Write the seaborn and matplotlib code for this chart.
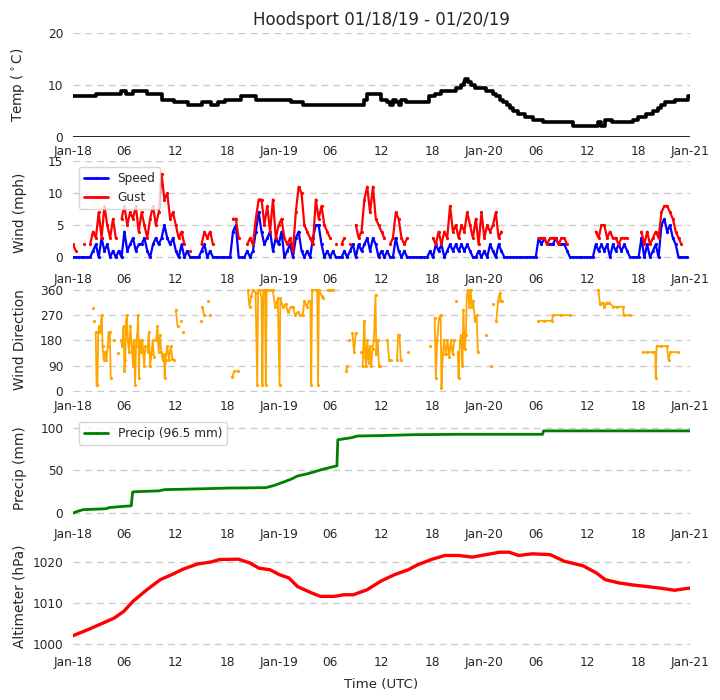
import numpy as np
import pandas as pd
import matplotlib
matplotlib.use("Agg")
import matplotlib.pyplot as plt
import matplotlib.dates as mdates
from matplotlib.lines import Line2D
import seaborn as sns

n = np.nan
start = pd.Timestamp("2019-01-18 00:00")

# temperature (deg C), step changes: hour since start -> value
temp_hours = [0, 2.7, 5.6, 6.2, 7.0, 8.6, 10.4, 11.8, 13.4, 15.0, 16.1, 16.9, 17.7,
              19.6, 21.4, 25.4, 26.8, 34.0, 34.3, 35.9, 36.7, 37.0, 37.3, 37.7, 38.0,
              38.3, 38.9, 41.5, 42.3, 42.9, 44.7, 45.3, 45.6, 45.8, 46.1, 46.4, 46.9,
              48.2, 49.0, 49.4, 49.8, 50.2, 50.6, 51.0, 51.4, 51.9, 52.7, 53.7, 54.9,
              58.4, 61.3, 61.6, 62.1, 62.9, 65.3, 65.9, 66.9, 67.7, 68.3, 68.6, 69.1,
              70.2, 71.8, 72.0]
temp_vals = [7.8, 8.3, 8.9, 8.3, 8.9, 8.3, 7.2, 6.7, 6.1, 6.7, 6.1, 6.7, 7.2,
             7.8, 7.2, 6.7, 6.1, 7.2, 8.3, 7.2, 6.7, 6.1, 7.2, 6.7, 6.1,
             7.2, 6.7, 7.8, 8.3, 8.9, 9.4, 10.0, 10.6, 11.1, 10.6, 10.0, 9.4,
             8.9, 8.3, 7.8, 7.2, 6.7, 6.1, 5.6, 5.0, 4.4, 3.9, 3.3, 2.8,
             2.2, 2.8, 2.2, 3.3, 2.8, 3.3, 3.9, 4.4, 5.0, 5.6, 6.1, 6.7,
             7.2, 7.8, 7.8]

# wind speed and gust (mph), one value every 20 minutes
wind_speed = [
    0, 0, 0, 0, 0, 0, 0, 1, 2, 0, 3, 1, 2, 0, 1, 0, 1, 0,
    4, 1, 2, 3, 1, 2, 2, 3, 1, 0, 2, 3, 2, 3, 5, 3, 2, 3,
    1, 0, 2, 0, 1, 0, 0, 0, 0, 1, 2, 0, 1, 0, 0, 0, 0, 0,
    0, 0, 4, 5, 0, 0, 0, 1, 0, 1, 4, 7, 4, 2, 3, 4, 1, 3,
    2, 4, 0, 1, 2, 0, 3, 4, 1, 0, 1, 0, 3, 5, 5, 2, 0, 1,
    0, 1, 0, 0, 0, 1, 0, 1, 2, 0, 2, 1, 2, 3, 1, 3, 2, 0,
    1, 0, 1, 0, 0, 3, 1, 0, 1, 0, 0, 0, 0, 0, 0, 0, 0, 1,
    0, 2, 1, 2, 0, 1, 2, 1, 2, 1, 2, 1, 2, 1, 0, 0, 1, 0,
    1, 0, 2, 1, 0, 2, 1, 0, 0, 0, 0, 0, 0, 0, 0, 0, 0, 0,
    0, 3, 2, 3, 2, 2, 2, 3, 2, 2, 2, 1, 0, 0, 0, 0, 0, 0,
    0, 0, 0, 2, 1, 2, 1, 2, 0, 2, 1, 2, 1, 2, 1, 0, 0, 0,
    0, 3, 0, 2, 0, 1, 2, 0, 5, 6, 4, 5, 3, 2, 0, 0, 0, 0,
]
wind_gust = [
    2, 1, n, n, 2, n, 2, 4, 3, 7, 3, 8, 5, 3, 6, 3, n, 6,
    8, 5, 7, 6, 8, 4, 7, 5, 3, 6, 8, 5, 7, 13, 9, 10, 6, 7,
    5, 3, 4, 2, n, 1, n, n, n, 2, 4, 3, 4, 2, n, n, n, n,
    n, n, 6, 6, 3, n, n, 2, 3, 2, 6, 9, 9, 5, 8, 4, 9, 3,
    5, 6, 3, 2, 3, 1, 7, 11, 10, 5, 4, 3, 2, 9, 6, 8, 5, 4,
    3, n, 2, n, 2, 3, n, 2, n, 5, 3, 4, 9, 11, 7, 11, 6, 5,
    4, 3, n, 2, 3, 7, 6, 3, 2, 3, n, n, n, n, n, n, n, n,
    3, 2, 4, 2, 4, 3, 8, 4, 5, 3, 5, 4, 7, 5, 3, 6, 2, 7,
    3, 5, 4, 5, 7, 3, 4, n, n, n, n, n, n, n, n, n, n, n,
    n, 3, 3, 3, 2, 3, 3, 3, 2, 3, 3, 2, n, n, n, n, n, n,
    n, n, n, 4, 3, 5, 5, 3, 4, 3, 3, 2, 3, 3, 3, n, n, n,
    n, 4, 2, 4, 2, 3, 4, 3, 7, 8, 8, 7, 6, 4, 3, 2, n, n,
]

# wind direction (deg), NaN breaks the line
dir_hours = [2.3, 2.4, 2.45, 2.5,
             2.65, 2.75, 2.85, 2.95, 3.05, 3.2, 3.35, 3.45, 3.6, 3.75, 3.9, 4.05, 4.15, 4.3, 4.4, 4.5,
             4.8, 4.85, 5.3, 5.35,
             5.6, 5.75, 5.9, 6.0, 6.1, 6.2, 6.3, 6.4, 6.55, 6.7, 6.85, 7.0, 7.1, 7.25, 7.35, 7.5,
             7.6, 7.7, 7.8, 7.95, 8.1, 8.3, 8.45, 8.55,
             8.7, 8.85, 9.0, 9.15, 9.3, 9.45, 9.55,
             9.7, 9.85, 10.0, 10.15, 10.3, 10.45, 10.6, 10.7, 10.8, 11.0, 11.2, 11.4, 11.6, 11.8, 11.9,
             12.0, 12.2, 12.3, 12.6, 12.65, 12.8, 12.85,
             14.9, 14.95, 15.1, 15.3, 15.35, 15.7, 15.75, 16.0, 16.05,
             18.6, 18.8, 19.2, 19.25,
             20.4, 20.6, 20.8, 21.0, 21.3, 21.5, 21.6, 21.8, 22.0, 22.1, 22.2, 22.4, 22.5, 22.6,
             23.0, 23.3, 23.6, 23.9, 24.1, 24.2, 24.5, 24.8, 25.1, 25.4, 25.7, 25.9, 26.2, 26.5,
             26.8, 27.0, 27.3, 27.5, 27.7, 27.8, 27.9, 28.3, 28.5, 28.6, 28.7, 29.0, 29.2, 29.3,
             29.7, 30.0, 30.3, 30.4,
             31.9, 32.0, 32.05, 32.2, 32.25,
             32.6, 32.8, 33.0, 33.1, 33.6, 33.65,
             33.8, 33.9, 34.0, 34.1, 34.2, 34.35, 34.5, 34.65, 34.8, 34.95, 35.1, 35.3, 35.4, 35.55,
             35.7, 35.8, 35.9,
             36.7, 36.9, 37.1, 37.15,
             37.8, 37.95, 38.1, 38.25, 38.3,
             39.1, 39.15, 41.7, 41.75,
             42.2, 42.35, 42.5, 42.7, 42.9, 43.0, 43.15, 43.3, 43.5, 43.7, 43.9, 44.1, 44.3, 44.5, 44.6,
             44.7, 44.75,
             44.9, 45.0, 45.15, 45.3, 45.45, 45.55, 45.7, 45.85, 45.95, 46.1, 46.25, 46.4, 46.55, 46.7,
             46.9, 47.1, 47.25, 47.35,
             48.2, 48.25, 48.8, 48.85,
             49.0, 49.15, 49.4, 49.6, 49.8, 49.95, 50.1, 50.2,
             54.3, 55.0, 55.9, 56.0, 57.0, 58.0, 58.05,
             61.3, 61.5, 61.8, 62.0, 62.3, 62.6, 63.0, 63.5, 64.2, 64.25, 65.0, 65.05,
             66.5, 67.0, 67.7, 67.95, 68.0, 68.1, 68.6, 69.3, 69.5, 69.7, 70.6]
dir_deg = [295, n, 250, n,
           210, 20, 20, 210, 230, 210, 270, 160, 110, 140, 110, 160, 210, 210, 45, n,
           180, n, 135, n,
           180, 160, 230, 70, 110, 250, 270, 180, 140, 230, 160, 90, 180, 20, 160, 200,
           270, 45, 180, 140, 180, 90, 160, n,
           140, 210, 90, 130, 180, 120, n,
           180, 230, 140, 200, 140, 110, 130, 45, 110, 160, 110, 160, 115, 110, n,
           290, 230, n, 250, n, 210, n,
           250, n, 300, 270, n, 320, n, 270, n,
           50, 70, 70, n,
           360, 300, 340, 360, 350, 20, 360, 360, 330, 20, 360, 360, 20, 360,
           360, 360, 300, 330, 20, 330, 300, 310, 280, 300, 300, 270, 280, 270,
           270, 320, 300, 320, 320, 20, 360, 360, 360, 20, 360, 340, 330, n,
           360, 360, 360, n,
           70, 90, n, 180, n,
           206, 140, 206, n, 138, n,
           90, 180, 250, 120, 90, 180, 100, 160, 90, 150, 180, 342, 130, 180,
           90, 90, n,
           180, 110, 110, n,
           110, 200, 200, 110, n,
           138, n, 160, n,
           260, 45, 180, 260, 270, 10, 130, 180, 130, 180, 120, 180, 130, 180, n,
           320, n,
           140, 45, 180, 200, 90, 290, 150, 200, 340, 360, 300, 360, 300, 320,
           250, 270, 140, n,
           200, n, 90, n,
           310, n, 250, 320, 350, 320, 320, n,
           250, 250, 250, 270, 270, 270, n,
           360, 310, 315, 300, 315, 315, 300, 300, 300, 270, 270, n,
           138, 138, 138, 138, 45, 160, 160, 160, 110, 138, 138]

# accumulated precipitation (mm)
prec_hours = [0, 0.4, 0.8, 1.2, 2.5, 3.8, 4.3, 5.5, 6.8, 6.95, 7.1, 8.5, 10.0, 10.7, 13.0,
              15.5, 18.0, 22.5, 23.5, 24.6, 25.5, 26.2, 27.3, 28.2, 29.0, 30.0, 30.8, 30.9,
              31.5, 32.5, 33.2, 36.0, 39.6, 45.0, 54.8, 54.9, 60.0, 72.0]
prec_mm = [0, 1.5, 2.8, 4.0, 4.5, 5.0, 6.5, 7.5, 8.5, 24.5, 25.0, 25.5, 26.0, 27.5, 28.0,
           28.6, 29.3, 29.8, 32.5, 36.5, 40.0, 43.5, 46.0, 48.5, 51.0, 53.5, 55.5, 86.0,
           87.0, 88.5, 90.5, 91.0, 92.0, 92.5, 92.5, 96.5, 96.5, 96.5]

# altimeter (hPa)
alt_hours = [0, 2.1, 4.8, 5.9, 7.0, 8.6, 10.2, 11.5, 12.9, 14.5, 16.1, 17.1, 19.3, 20.6,
             21.7, 23.0, 24.1, 25.2, 26.2, 27.9, 28.9, 30.5, 31.6, 32.7, 34.3, 35.9, 37.5,
             39.1, 40.2, 41.8, 43.4, 45.0, 46.6, 48.2, 49.8, 50.9, 52.0, 53.6, 55.7, 57.3,
             59.5, 61.1, 62.1, 63.7, 65.3, 67.0, 68.6, 70.2, 71.8, 72.0]
alt_hpa = [1002.0, 1003.8, 1006.3, 1007.9, 1010.4, 1013.2, 1015.7, 1016.9, 1018.3, 1019.5,
           1020.0, 1020.6, 1020.7, 1019.8, 1018.5, 1018.1, 1016.9, 1016.1, 1014.0, 1012.4,
           1011.6, 1011.6, 1012.0, 1012.0, 1013.2, 1015.3, 1016.9, 1018.1, 1019.3, 1020.6,
           1021.6, 1021.6, 1021.2, 1021.8, 1022.4, 1022.4, 1021.6, 1022.0, 1021.8, 1020.2,
           1019.1, 1017.3, 1015.7, 1014.9, 1014.4, 1014.0, 1013.6, 1013.1, 1013.6, 1013.6]


def to_time(hours):
    return start + pd.to_timedelta(np.asarray(hours, dtype=float), unit="h")


def with_segments(times, values):
    df = pd.DataFrame({"time": times, "val": values})
    df["seg"] = df["val"].isna().cumsum()
    return df.dropna()


wind_t = start + pd.to_timedelta(np.arange(len(wind_speed)) * 20, unit="min")

sns.set_style("whitegrid")
plt.rcParams["font.family"] = ["DejaVu Sans"]

fig = plt.figure(figsize=(7.2, 7.0), dpi=100)
left, width, height = 73 / 720, 617 / 720, 104 / 700
tops = [33, 161, 288, 416, 544]
axes = [fig.add_axes([left, 1 - (t + 104) / 700, width, height]) for t in tops]
ax_t, ax_w, ax_d, ax_p, ax_a = axes

# temperature
sns.lineplot(x=to_time(temp_hours), y=temp_vals, drawstyle="steps-post",
             color="black", lw=2.6, ax=ax_t)
ax_t.axhline(0, color="black", lw=1.2, zorder=1)
ax_t.set_ylim(0, 20)
ax_t.set_yticks([0, 10, 20])
ax_t.set_ylabel("Temp ($^\\circ$C)")
ax_t.set_title("Hoodsport 01/18/19 - 01/20/19", fontsize=12, pad=6)

# wind speed / gust
sns.lineplot(x=wind_t, y=wind_speed, color="blue", lw=1.6, marker=".", ms=3,
             mec="blue", ax=ax_w)
gust_df = with_segments(wind_t, wind_gust)
sns.lineplot(data=gust_df, x="time", y="val", units="seg", estimator=None,
             color="red", lw=1.6, marker=".", ms=3, mec="red", ax=ax_w)
ax_w.set_ylim(-1.2, 15)
ax_w.set_yticks([0, 5, 10, 15])
ax_w.set_ylabel("Wind (mph)")
ax_w.legend(handles=[Line2D([], [], color="blue", lw=2, marker=".", ms=2, label="Speed"),
                     Line2D([], [], color="red", lw=2, marker=".", ms=2, label="Gust")],
            loc="upper left", fontsize=8.7)

# wind direction
dir_df = with_segments(to_time(dir_hours), dir_deg)
sns.lineplot(data=dir_df, x="time", y="val", units="seg", estimator=None,
             color="orange", lw=1.3, marker=".", ms=3, mec="orange", ax=ax_d)
ax_d.set_ylim(-4, 367)
ax_d.set_yticks([0, 90, 180, 270, 360])
ax_d.set_ylabel("Wind Direction")

# precipitation
sns.lineplot(x=to_time(prec_hours), y=prec_mm, color="green", lw=2.0, ax=ax_p)
ax_p.set_ylim(-8.2, 114)
ax_p.set_yticks([0, 50, 100])
ax_p.set_ylabel("Precip (mm)")
ax_p.legend(handles=[Line2D([], [], color="green", lw=2, marker=".", ms=2,
                            label=f"Precip ({prec_mm[-1]} mm)")],
            loc="upper left", fontsize=8.7)

# altimeter
sns.lineplot(x=to_time(alt_hours), y=alt_hpa, color="red", lw=2.4, ax=ax_a)
ax_a.set_ylim(999.0, 1024.4)
ax_a.set_yticks([1000, 1010, 1020])
ax_a.set_ylabel("Altimeter (hPa)")
ax_a.set_xlabel("Time (UTC)", fontsize=9.6, labelpad=6)


def tick_fmt(x, pos):
    d = mdates.num2date(x)
    return d.strftime("%b-%d") if d.hour == 0 else d.strftime("%H")


for ax in axes:
    ax.set_xlim(start, start + pd.Timedelta(hours=72))
    ax.xaxis.set_major_locator(mdates.HourLocator(byhour=[0, 6, 12, 18]))
    ax.xaxis.set_major_formatter(plt.FuncFormatter(tick_fmt))
    ax.grid(False, axis="x")
    ax.grid(True, axis="y", color="#cccccc", linestyle="--", dashes=(5, 3.5), lw=1)
    ax.tick_params(axis="both", length=0, labelsize=8.7)
    ax.tick_params(axis="x", pad=6)
    ax.tick_params(axis="y", pad=7)
    ax.yaxis.label.set_size(9.8)
    ax.yaxis.set_label_coords(-0.075, 0.5)
    if ax is not ax_a:
        ax.set_xlabel("")
    sns.despine(ax=ax, left=True, bottom=True)

fig.savefig("out.png", dpi=100)
